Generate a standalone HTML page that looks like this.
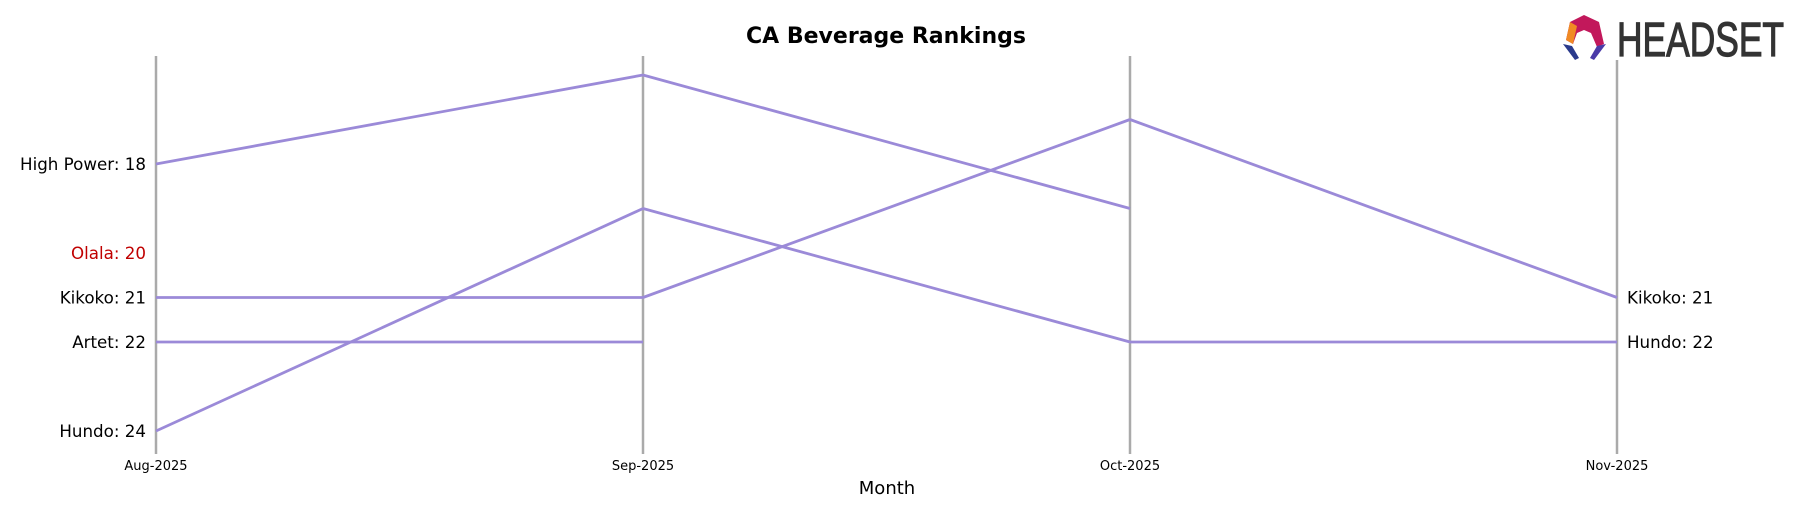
<!DOCTYPE html>
<html><head><meta charset="utf-8"><style>
body{margin:0;background:#fff;font-family:"DejaVu Sans","Liberation Sans",sans-serif}
svg{display:block}
</style></head><body>
<svg width="1799" height="507" viewBox="0 0 1799 507">
<text x="886" y="43" text-anchor="middle" font-size="22" font-weight="bold">CA Beverage Rankings</text>
<g>
<polygon points="1584,15 1599,22 1604,44 1597,47 1591,33 1584,30 1577,33 1573,44 1566,40 1570,22" fill="#c2185b"/>
<polygon points="1570,22 1577,26 1573,44 1566,40" fill="#f08a24"/>
<polygon points="1563,44 1572,46 1579,58 1575,60" fill="#2a3a8c"/>
<polygon points="1606,44 1597,46 1590,58 1594,60" fill="#4a3aa8"/>
<text x="1617" y="56" font-size="48" font-family="Liberation Sans Narrow,Liberation Sans,sans-serif" fill="#333" stroke="#333" stroke-width="1.2" textLength="167" lengthAdjust="spacingAndGlyphs">HEADSET</text>
</g>
<g id="axes"></g>
<g id="lines"></g>
<g id="labels"></g>
<text x="887" y="494" text-anchor="middle" font-size="18">Month</text>
</svg>
<script>
const months=["Aug-2025","Sep-2025","Oct-2025","Nov-2025"];
const brands=["High Power","Olala","Kikoko","Artet","Hundo"];
const highPower=[18,16,19,null];
const olala=[20,null,null,null];
const kikoko=[21,21,17,21];
const artet=[22,22,null,null];
const hundo=[24,19,22,22];
const series=[highPower,olala,kikoko,artet,hundo];
const labelColors=["#000","#c00000","#000","#000","#000"];
const NS="http://www.w3.org/2000/svg";
const xs=i=>156+i*487;
const ys=r=>164+(r-18)*44.5;
function mk(t,a,p){const e=document.createElementNS(NS,t);for(const k in a)e.setAttribute(k,a[k]);p.appendChild(e);return e;}
const ax=document.getElementById('axes'),ln=document.getElementById('lines'),lb=document.getElementById('labels');
months.forEach((m,i)=>{
 const l=mk('line',{x1:xs(i),x2:xs(i),y1:i==3?60:56,y2:454,stroke:'#aaa','stroke-width':2.5},ax);
 
 
 const t=mk('text',{x:xs(i),y:470,'text-anchor':'middle','font-size':13},ax);
 t.textContent=m;
 
 
});
series.forEach((s,j)=>{
 for(let i=0;i<s.length-1;i++){
  if(s[i]!=null&&s[i+1]!=null){
   const l=mk('line',{x1:xs(i),y1:ys(s[i]),x2:xs(i+1),y2:ys(s[i+1]),stroke:'#9b8ad8','stroke-width':2.8},ln);
   
   
  }
 }
 if(s[0]!=null){
  const t=mk('text',{x:146,y:ys(s[0])+6,'text-anchor':'end','font-size':16.7,fill:labelColors[j]},lb);
  t.textContent=brands[j]+': '+s[0];
  
  
 }
 const last=s.length-1;
 if(s[last]!=null){
  const t=mk('text',{x:xs(last)+10,y:ys(s[last])+6,'font-size':16.7,fill:labelColors[j]},lb);
  t.textContent=brands[j]+': '+s[last];
  
  
 }
});
</script>
</body></html>
